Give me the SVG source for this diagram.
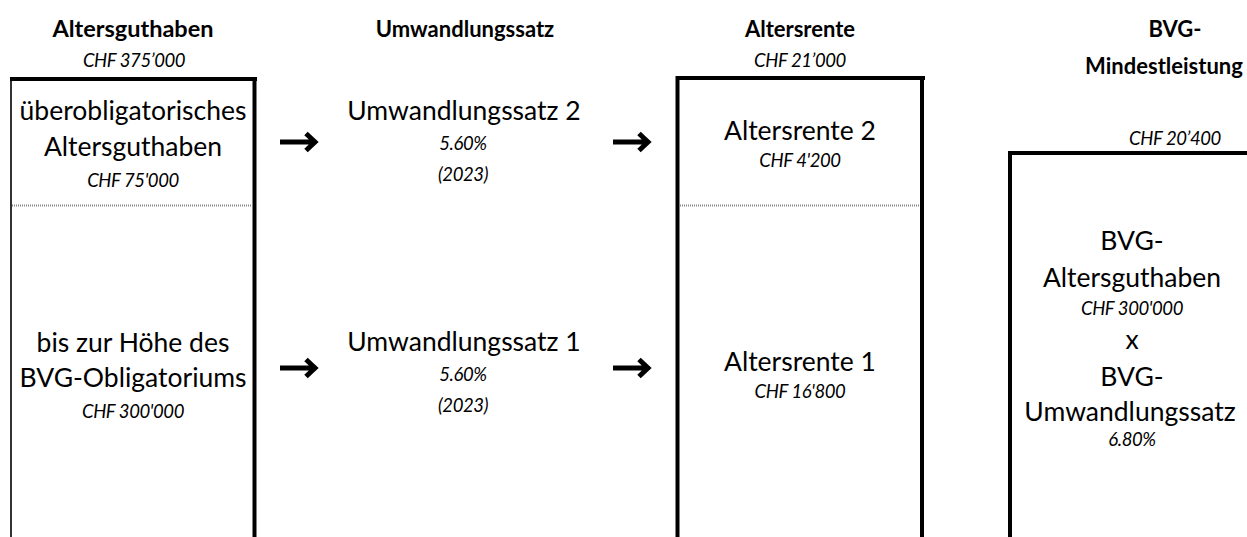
<svg xmlns="http://www.w3.org/2000/svg" width="1247" height="537" viewBox="0 0 1247 537">
<style>
text{font-family:Lato,"Open Sans","Liberation Sans",sans-serif;fill:#000;text-anchor:middle}
.h{font-weight:bold;font-size:22px}
.b{font-size:26.5px}
.i{font-style:italic;font-size:18.5px;letter-spacing:-0.4px}
.edge{stroke:#000;stroke-width:4;fill:none}
.thin{stroke:#333;stroke-width:2;fill:none}
.sep{stroke:#888;stroke-width:2;stroke-dasharray:1 1;fill:none}
.arr{stroke:#000;stroke-width:5;fill:none;stroke-linejoin:miter}
</style>
<rect width="1247" height="537" fill="#fff"/>
<g id="col-altersguthaben">
<text class="h" x="133" y="37" style="font-size:23.5px">Altersguthaben</text>
<text class="i" x="134" y="67">CHF 375’000</text>
<path class="thin" d="M11 78 V537"/>
<path class="edge" d="M10 79 H257 M254.5 77 V537"/>
<path class="sep" d="M12 205.5 H253"/>
</g>
<g id="node-ueberobligatorisch">
<text class="b" x="133" y="120">überobligatorisches</text>
<text class="b" x="133" y="156">Altersguthaben</text>
<text class="i" x="133" y="187">CHF 75'000</text>
</g>
<g id="node-obligatorium">
<text class="b" x="133" y="352">bis zur Höhe des</text>
<text class="b" x="133" y="387">BVG-Obligatoriums</text>
<text class="i" x="133" y="418">CHF 300'000</text>
</g>
<g id="col-umwandlungssatz">
<text class="h" x="465" y="37">Umwandlungssatz</text>
</g>
<g id="node-uws2">
<text class="b" x="464" y="120">Umwandlungssatz 2</text>
<text class="i" x="463" y="150">5.60%</text>
<text class="i" x="463" y="181">(2023)</text>
</g>
<g id="node-uws1">
<text class="b" x="464" y="351">Umwandlungssatz 1</text>
<text class="i" x="463" y="381">5.60%</text>
<text class="i" x="463" y="412">(2023)</text>
</g>
<g id="col-altersrente">
<text class="h" x="800" y="37">Altersrente</text>
<text class="i" x="800" y="67">CHF 21’000</text>
<path class="edge" d="M677.5 537 V78 H925 M922 76 V537"/>
<path class="sep" d="M680 205.5 H920"/>
</g>
<g id="node-rente2">
<text class="b" x="800" y="140">Altersrente 2</text>
<text class="i" x="800" y="167">CHF 4'200</text>
</g>
<g id="node-rente1">
<text class="b" x="800" y="371">Altersrente 1</text>
<text class="i" x="800" y="398">CHF 16'800</text>
</g>
<g id="col-bvg">
<text class="h" x="1175" y="37">BVG-</text>
<text class="h" x="1164" y="74">Mindestleistung</text>
<text class="i" x="1175" y="145">CHF 20’400</text>
<path class="edge" d="M1010 537 V153 H1247"/>
</g>
<g id="node-bvg-formel">
<text class="b" x="1132" y="250">BVG-</text>
<text class="b" x="1132" y="287">Altersguthaben</text>
<text class="i" x="1132" y="315">CHF 300'000</text>
<text class="b" x="1132" y="349">x</text>
<text class="b" x="1132" y="386">BVG-</text>
<text class="b" x="1130" y="421">Umwandlungssatz</text>
<text class="i" x="1132" y="446">6.80%</text>
</g>
<g id="connectors">
<path class="arr" d="M280 142 H314 M306 133.5 L315 142 L306 150.5"/>
<path class="arr" d="M613 142 H647 M639 133.5 L648 142 L639 150.5"/>
<path class="arr" d="M280 368 H314 M306 359.5 L315 368 L306 376.5"/>
<path class="arr" d="M613 368 H647 M639 359.5 L648 368 L639 376.5"/>
</g>
</svg>
